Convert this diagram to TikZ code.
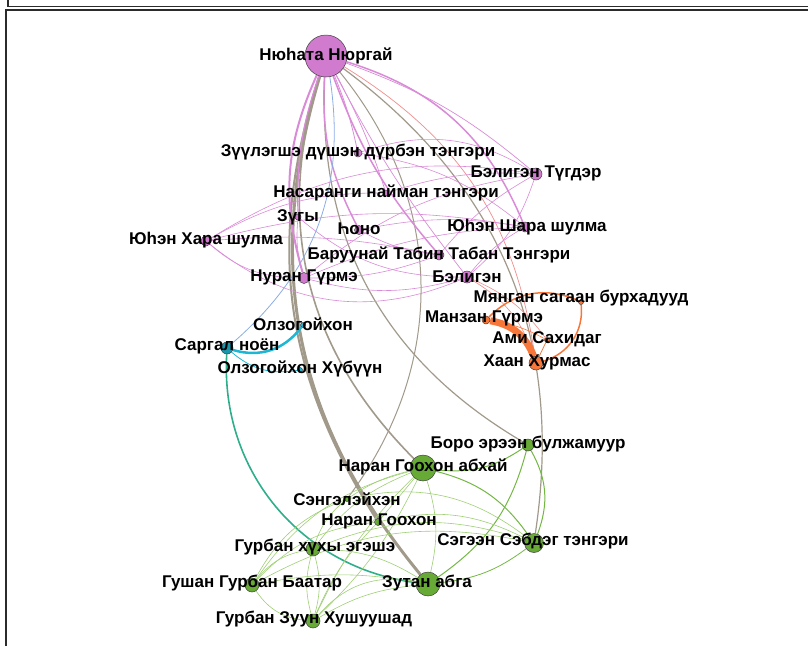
\documentclass[tikz,border=0pt]{standalone}
\usepackage{fontspec}
\setmainfont{Liberation Sans}
\definecolor{magN}{HTML}{D17BCF}
\definecolor{magE}{HTML}{D98BD7}
\definecolor{brE}{HTML}{A19A8B}
\definecolor{orN}{HTML}{F7773A}
\definecolor{cyE}{HTML}{1DB7D6}
\definecolor{saN}{HTML}{1898AE}
\definecolor{tgE}{HTML}{2EAE8A}
\definecolor{grN}{HTML}{67AA35}
\definecolor{grE}{HTML}{74B844}
\definecolor{lgE}{HTML}{9FD074}
\definecolor{blE}{HTML}{8CACE6}
\definecolor{prE}{HTML}{F28C8C}
\definecolor{bdr}{HTML}{404040}
\definecolor{frm}{HTML}{2B2B2B}
\pgfdeclarelayer{bg}
\pgfsetlayers{bg,main}
\tikzset{
  vtx/.style={circle, draw=bdr, line width=0.5pt, inner sep=0pt, minimum size=#1},
  lbl/.style={font=\fontsize{17}{19}\selectfont\bfseries, text=black, inner sep=0pt},
  bre/.style={draw=brE, line width=#1},
  mge/.style={draw=magE, line width=#1},
  lge/.style={draw=lgE, line width=0.6pt},
  gre/.style={draw=grE, line width=#1},
  ore/.style={draw=orN, line width=#1},
  frame/.style={draw=frm, line width=1.7pt}
}
\begin{document}
\begin{tikzpicture}[x=1pt,y=-1pt]
\useasboundingbox (0,0) rectangle (808,646);
% frame
\draw[frame] (8.2,0) -- (8.2,6.5) -- (808,6.5);
\draw[frame] (6.3,646) -- (6.3,9.8) -- (808,9.8);
% nodes
\node[vtx=42, fill=magN] (nn) at (326,56) {};
\node[vtx=8, fill=magN] (zu) at (358,153) {};
\node[vtx=6, fill=magN] (na) at (386,193) {};
\node[vtx=6, fill=magN] (zg) at (298,217) {};
\node[vtx=9, fill=magN] (ho) at (359,230) {};
\node[vtx=10, fill=magN] (yx) at (206,241) {};
\node[vtx=10, fill=magN] (bt) at (439,255) {};
\node[vtx=11, fill=magN] (ng) at (304,278) {};
\node[vtx=12, fill=magN] (be) at (467,277) {};
\node[vtx=12, fill=magN] (btg) at (536,174) {};
\node[vtx=10, fill=magN] (ys) at (525,227) {};
\node[vtx=5, fill=orN] (my) at (581,302) {};
\node[vtx=8, fill=orN] (mz) at (486,320) {};
\node[vtx=5, fill=orN] (am) at (547,340) {};
\node[vtx=14, fill=orN] (xx) at (536,363) {};
\node[vtx=5, fill=cyE] (ol) at (303,325) {};
\node[vtx=12, fill=saN] (sa) at (227,348) {};
\node[vtx=5, fill=cyE] (oh) at (300,370) {};
\node[vtx=12, fill=grN] (bo) at (528,445) {};
\node[vtx=26, fill=grN] (nga) at (423,468) {};
\node[vtx=5, fill=grN] (se) at (347,499) {};
\node[vtx=7, fill=grN] (ngo) at (378,522) {};
\node[vtx=19, fill=grN] (sb) at (534,543) {};
\node[vtx=14, fill=grN] (gx) at (313,549) {};
\node[vtx=14, fill=grN] (gg) at (252,585) {};
\node[vtx=24, fill=grN] (za) at (428,584) {};
\node[vtx=14, fill=grN] (gz) at (313,621) {};
\begin{pgfonlayer}{bg}
% brown edges from the top node
\draw[bre=3pt] (nn) to[bend right=28] (za);
\draw[bre=2pt] (nn) to[bend right=25] (ngo);
\draw[bre=1.6pt] (nn) to[bend right=31] (nga);
\draw[bre=1.2pt] (nn) to[bend right=31] (bo);
\draw[bre=1.2pt] (nn) to[bend left=31] (sb);
\draw[bre=1pt] (nn) to[bend left=38] (se);
% magenta edges from the top node
\draw[mge=2pt] (nn) to[bend right=20] (ng);
\draw[mge=1.2pt] (nn) to[bend right=10] (zg);
\draw[mge=1.5pt] (nn) to[bend right=15] (ho);
\draw[mge=1.5pt] (nn) to[bend right=10] (bt);
\draw[mge=0.8pt] (nn) to[bend left=5] (zu);
\draw[mge=1.5pt] (nn) to[bend left=25] (ys);
\draw[mge=0.7pt] (nn) to[bend left=10] (btg);
\draw[mge=0.7pt] (nn) to[bend left=5] (na);
\draw[mge=0.7pt] (nn) to[bend right=5] (be);
\draw[draw=prE, line width=0.7pt] (nn) to[bend left=25] (xx);
\draw[draw=blE, line width=0.8pt] (nn) to[bend left=29] (sa);
% magenta cluster
\draw[mge=0.6pt] (yx) to[bend left=20] (btg);
\draw[mge=0.6pt] (yx) to[bend left=12] (ys);
\draw[mge=0.6pt] (yx) to[bend left=8] (bt);
\draw[mge=0.6pt] (yx) to[bend right=31] (be);
\draw[mge=0.6pt] (yx) to[bend right=20] (ng);
\draw[mge=0.6pt] (yx) to[bend left=15] (na);
\draw[mge=0.6pt] (ng) to[bend left=15] (btg);
\draw[mge=0.6pt] (ng) to[bend left=10] (ys);
\draw[mge=0.6pt] (ng) to[bend right=15] (be);
\draw[mge=0.6pt] (ng) to[bend right=10] (bt);
\draw[mge=0.6pt] (zu) to[bend left=25] (btg);
\draw[mge=0.6pt] (zu) to[bend left=15] (ys);
\draw[mge=0.6pt] (bt) to[bend left=10] (btg);
\draw[mge=0.6pt] (be) to[bend right=15] (btg);
\draw[mge=0.6pt] (be) to[bend left=10] (ys);
\draw[mge=0.6pt] (ho) to[bend left=10] (ys);
\draw[mge=0.6pt] (ho) to[bend right=10] (bt);
\draw[mge=0.6pt] (zg) to[bend right=20] (be);
\draw[mge=0.6pt] (na) to[bend left=10] (btg);
\draw[mge=0.6pt] (zg) to[bend right=10] (ng);
\draw[draw=prE, line width=0.6pt] (be) to[bend left=20] (xx);
\draw[draw=prE, line width=0.6pt] (be) to[bend left=15] (am);
% orange
\draw[ore=7pt] (mz) to[bend left=30] (xx);
\draw[ore=1.5pt] (mz) to[bend left=35] (my);
\draw[ore=1.5pt] (my) to[bend left=40] (xx);
\draw[ore=0.8pt] (am) to (xx);
\draw[ore=0.6pt] (mz) to[bend left=10] (am);
% cyan / teal
\draw[draw=cyE, line width=2.5pt] (sa) to[bend right=35] (ol);
\draw[draw=cyE, line width=0.8pt] (sa) to[bend right=25] (oh);
\draw[draw=tgE, line width=1.6pt] (sa) to[bend right=43] (za);
% green
\draw[gre=1pt] (nga) to[bend right=20] (bo);
\draw[gre=1pt] (nga) to[bend left=20] (sb);
\draw[gre=1pt] (bo) to[bend left=25] (sb);
\draw[gre=1pt] (bo) to[bend left=20] (za);
\draw[gre=0.8pt] (sb) to[bend left=15] (za);
\draw[lge] (nga) to[bend right=15] (gx);
\draw[lge] (nga) to[bend right=20] (gg);
\draw[lge] (nga) to[bend right=10] (gz);
\draw[lge] (nga) to[bend left=10] (gz);
\draw[lge] (nga) to[bend right=10] (se);
\draw[lge] (nga) to (ngo);
\draw[lge] (nga) to[bend left=15] (za);
\draw[lge] (se) to[bend left=25] (sb);
\draw[lge] (ngo) to[bend left=20] (sb);
\draw[lge] (gx) to[bend left=20] (sb);
\draw[lge] (gg) to[bend left=20] (sb);
\draw[lge] (gx) to[bend right=20] (gg);
\draw[lge] (gx) to[bend left=15] (gz);
\draw[lge] (gx) to[bend right=15] (gz);
\draw[lge] (gg) to[bend right=25] (gz);
\draw[lge] (gg) to[bend left=10] (za);
\draw[lge] (gz) to[bend left=30] (za);
\draw[lge] (gz) to[bend left=12] (za);
\draw[lge] (gx) to[bend left=15] (za);
\draw[lge] (ngo) to[bend right=20] (gg);
\draw[lge] (ngo) to[bend right=10] (gz);
\draw[lge] (se) to[bend right=20] (gg);
\draw[lge] (se) to[bend right=15] (gx);
\end{pgfonlayer}
% labels
\node[lbl] (Lnn) at (326,56) {Нюhата Нюргай};
\node[lbl] (Lzu) at (358,152) {Зүүлэгшэ дүшэн дүрбэн тэнгэри};
\node[lbl] (Lna) at (386,193) {Насаранги найман тэнгэри};
\node[lbl] (Lzg) at (298,217) {Зүгы};
\node[lbl] (Lho) at (359,229) {Һоно};
\node[lbl] (Lyx) at (206,240) {Юһэн Хара шулма};
\node[lbl] (Lbt) at (439,255) {Баруунай Табин Табан Тэнгэри};
\node[lbl] (Lng) at (304,277) {Нуран Гүрмэ};
\node[lbl] (Lbe) at (467,277) {Бэлигэн};
\node[lbl] (Lbtg) at (536,173) {Бэлигэн Түгдэр};
\node[lbl] (Lys) at (527,227) {Юһэн Шара шулма};
\node[lbl] (Lmy) at (581,298) {Мянган сагаан бурхадууд};
\node[lbl] (Lmz) at (484,318) {Манзан Гүрмэ};
\node[lbl] (Lam) at (547,339) {Ами Сахидаг};
\node[lbl] (Lxx) at (537,362) {Хаан Хурмас};
\node[lbl] (Lol) at (303,324) {Олзогойхон};
\node[lbl] (Lsa) at (227,346) {Саргал ноён};
\node[lbl] (Loh) at (300,369) {Олзогойхон Хүбүүн};
\node[lbl] (Lbo) at (528,444) {Боро эрээн булжамуур};
\node[lbl] (Lnga) at (423,467) {Наран Гоохон абхай};
\node[lbl] (Lse) at (347,499) {Сэнгэлэйхэн};
\node[lbl] (Lngo) at (379,521) {Наран Гоохон};
\node[lbl] (Lsb) at (533,541) {Сэгээн Сэбдэг тэнгэри};
\node[lbl] (Lgx) at (315,547) {Гурбан хүхы эгэшэ};
\node[lbl] (Lgg) at (252,583) {Гушан Гурбан Баатар};
\node[lbl] (Lza) at (427,583) {Зутан абга};
\node[lbl] (Lgz) at (314,619) {Гурбан Зуун Хушуушад};
\end{tikzpicture}
\end{document}
